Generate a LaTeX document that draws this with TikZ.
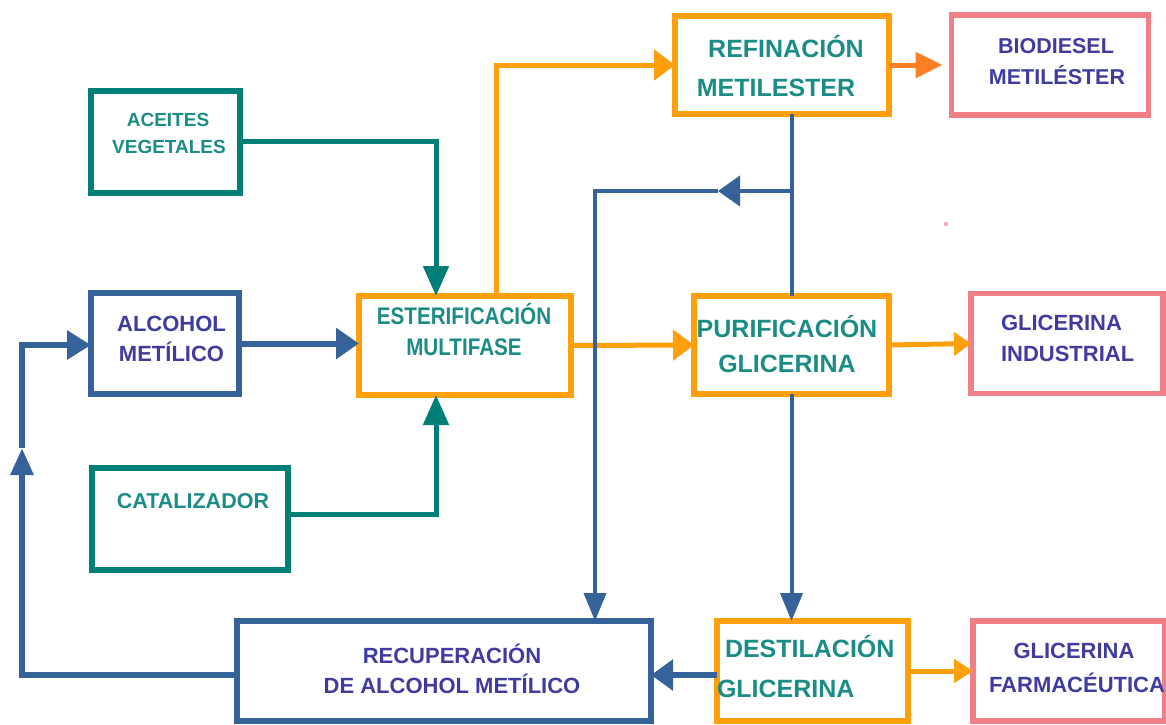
\documentclass[tikz,border=0pt]{standalone}
\usepackage{fontspec}
\setmainfont{Liberation Sans}
\usetikzlibrary{arrows.meta}
\definecolor{teal1}{HTML}{007F78}
\definecolor{tealtxt}{HTML}{1B8C86}
\definecolor{blue1}{HTML}{356298}
\definecolor{orng}{HTML}{FF9F0A}
\definecolor{orngred}{HTML}{FF7F24}
\definecolor{pinkb}{HTML}{F07F88}
\definecolor{purp}{HTML}{403C9F}
\definecolor{pinkdot}{HTML}{F8A8C8}
\begin{document}
\begin{tikzpicture}[x=1pt,y=-1pt,
  boxA/.style={draw, rectangle, inner sep=0pt, outer sep=0pt},
  tealbox/.style={boxA, draw=teal1, line width=6pt},
  bluebox/.style={boxA, draw=blue1, line width=6.5pt},
  orbox/.style={boxA, draw=orng, line width=6pt},
  pinkbox/.style={boxA, draw=pinkb, line width=5.5pt},
  txt/.style={inner sep=0pt, outer sep=0pt, anchor=base},
  txtl/.style={inner sep=0pt, outer sep=0pt, anchor=base west},
  tline/.style={draw=teal1, line width=5pt},
  bline/.style={draw=blue1, line width=6pt},
  bthin/.style={draw=blue1, line width=4pt},
  oline/.style={draw=orng, line width=5pt},
]
\useasboundingbox (0,0) rectangle (1166,724);
\fill[white] (0,0) rectangle (1166,724);

% boxes
\node[tealbox, minimum width=149pt, minimum height=102pt] (acei) at (165,141.5) {};
\node[bluebox, minimum width=148pt, minimum height=101pt] (alc) at (165,343.5) {};
\node[orbox, minimum width=212pt, minimum height=99pt] (est) at (465,345.5) {};
\node[tealbox, minimum width=196pt, minimum height=102pt] (cat) at (189.5,519) {};
\node[orbox, minimum width=214pt, minimum height=98pt] (ref) at (782,65) {};
\node[pinkbox, minimum width=197pt, minimum height=100pt] (bio) at (1050,65) {};
\node[orbox, minimum width=195pt, minimum height=98pt] (pur) at (791.5,345) {};
\node[pinkbox, minimum width=192pt, minimum height=100pt] (gin) at (1067,343.5) {};
\node[bluebox, minimum width=414pt, minimum height=100pt] (rec) at (444,671) {};
\node[orbox, minimum width=191pt, minimum height=100pt] (des) at (812.5,671) {};
\node[pinkbox, minimum width=192pt, minimum height=100pt] (far) at (1069,671) {};
\fill[pinkdot] (944,222) rectangle (948,226);

% texts
\begin{scope}[every node/.append style={font=\bfseries}]
\node[txt, text=tealtxt, font=\bfseries\fontsize{19}{19}\selectfont] (t1a) at (168,126.8) {ACEITES};
\node[txt, text=tealtxt, font=\bfseries\fontsize{19}{19}\selectfont] (t1b) at (169,153.8) {VEGETALES};
\node[txt, text=purp, font=\bfseries\fontsize{22}{22}\selectfont] (t2a) at (171.5,331.9) {ALCOHOL};
\node[txt, text=purp, font=\bfseries\fontsize{22}{22}\selectfont] (t2b) at (171.5,361.9) {METÍLICO};
\node[txt, text=tealtxt, font=\bfseries\fontsize{24}{24}\selectfont] (t3a) at (464,324) {\scalebox{0.86}[1]{ESTERIFICACIÓN}};
\node[txt, text=tealtxt, font=\bfseries\fontsize{24}{24}\selectfont] (t3b) at (464,355) {\scalebox{0.86}[1]{MULTIFASE}};
\node[txt, text=tealtxt, font=\bfseries\fontsize{21.5}{21.5}\selectfont] (t4) at (193,508.7) {CATALIZADOR};
\node[txt, text=tealtxt, font=\bfseries\fontsize{25}{25}\selectfont] (t5a) at (786,57) {REFINACIÓN};
\node[txt, text=tealtxt, font=\bfseries\fontsize{25}{25}\selectfont] (t5b) at (776,96) {METILESTER};
\node[txt, text=purp, font=\bfseries\fontsize{21.5}{21.5}\selectfont] (t6a) at (1056,53.7) {BIODIESEL};
\node[txt, text=purp, font=\bfseries\fontsize{21.5}{21.5}\selectfont] (t6b) at (1057,84.7) {METILÉSTER};
\node[txt, text=tealtxt, font=\bfseries\fontsize{25}{25}\selectfont] (t7a) at (787,337) {PURIFICACIÓN};
\node[txt, text=tealtxt, font=\bfseries\fontsize{25}{25}\selectfont] (t7b) at (787,372) {GLICERINA};
\node[txtl, text=purp, font=\bfseries\fontsize{22}{22}\selectfont] (t8a) at (1001,330.9) {GLICERINA};
\node[txtl, text=purp, font=\bfseries\fontsize{22}{22}\selectfont] (t8b) at (1001,361.9) {INDUSTRIAL};
\node[txtl, text=tealtxt, font=\bfseries\fontsize{25}{25}\selectfont] (t9a) at (725,657) {DESTILACIÓN};
\node[txtl, text=tealtxt, font=\bfseries\fontsize{25}{25}\selectfont] (t9b) at (717,697) {GLICERINA};
\node[txt, text=purp, font=\bfseries\fontsize{22}{22}\selectfont] (t10a) at (452,663.9) {RECUPERACIÓN};
\node[txt, text=purp, font=\bfseries\fontsize{22}{22}\selectfont] (t10b) at (452,693.9) {DE ALCOHOL METÍLICO};
\node[txt, text=purp, font=\bfseries\fontsize{22}{22}\selectfont] (t11a) at (1074,658.9) {GLICERINA};
\node[txtl, text=purp, font=\bfseries\fontsize{22}{22}\selectfont] (t11b) at (989,692.9) {FARMACÉUTICA};
\end{scope}

% teal connectors
\draw[tline, -{Triangle[length=30pt,width=25pt]}] (acei.east) -| ([xshift=-29pt]est.north);
\draw[tline, -{Triangle[length=30pt,width=25pt]}] ([yshift=5pt]cat.east) -| ([xshift=-29pt]est.south);

% orange connectors
\draw[oline, -{Triangle[length=21pt,width=30pt]}] ([xshift=31pt]est.north) |- (ref.west);
\draw[oline, draw=orngred, -{Triangle[length=27pt,width=25pt]}] (ref.east) -- ([xshift=-9pt]bio.west);
\draw[oline, -{Triangle[length=21pt,width=30pt]}] (est.east) -- (pur.west);
\draw[oline, -{Triangle[length=17pt,width=23pt]}] (pur.east) -- (gin.west);
\draw[oline, -{Triangle[length=19pt,width=23pt]}] (des.east) -- (far.west);

% blue connectors
\coordinate (l1) at (22,675);
\coordinate (l2) at (22,448);
\coordinate (l3) at (22,345);
\coordinate (j1) at (792,191);
\coordinate (j2) at (718,191);
\coordinate (c1) at (595,191);
\draw[bline, -{Triangle[length=23pt,width=30pt]}] (alc.east) -- (alc.east -| est.west);
\draw[bline, -{Triangle[length=27pt,width=22pt]}] ([yshift=-4pt]rec.west) -- (l1) -- (l2);
\draw[bline, -{Triangle[length=24pt,width=28pt]}] (l2) -- (l3) -- (l3 -| alc.west);
\draw[bthin] (ref.south -| pur.north) -- (pur.north);
\draw[bthin, -{Triangle[length=22pt,width=30pt]}] (j1) -- (j2);
\draw[bthin, -{Triangle[length=28pt,width=22pt]}] (j2) -- (c1) -- (c1 |- rec.north);
\draw[bthin, -{Triangle[length=28pt,width=22pt]}] (pur.south) -- (pur.south |- des.north);
\draw[bline, -{Triangle[length=22pt,width=30pt]}] ([yshift=-4pt]des.west) -- ([yshift=-4pt]rec.east);
\end{tikzpicture}
\end{document}
